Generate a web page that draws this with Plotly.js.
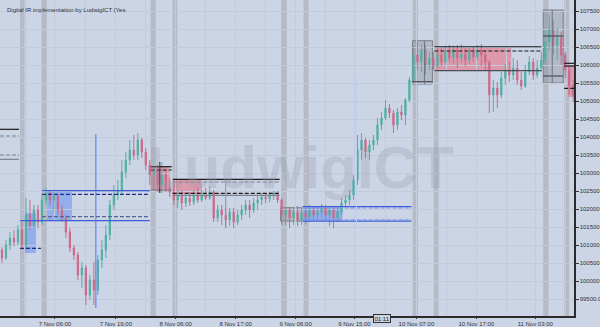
<!DOCTYPE html>
<html>
<head>
<meta charset="utf-8">
<script src="https://cdn.plot.ly/plotly-3.0.1.min.js"></script>
<style>html,body{margin:0;padding:0;background:#ccd5e6;}#chart{width:600px;height:327px;}</style>
</head>
<body>
<div id="chart"></div>
<script>
// ---- candle data (bar index, OHLC) ----
const barIndex = Array.from({length:144},(_, i)=>i);
const openP  = [100861,100639,101000,101195,101084,101417,101000,101834,101556,101972,101639,102250,102445,102250,102361,101972,101750,101361,100917,100722,100167,100361,99611,100028,99750,100584,100861,101278,102111,102389,102528,103028,103361,103639,103500,103917,103584,103222,102945,103084,102667,102945,102584,102472,102250,102389,102167,102306,102195,102361,102250,102389,102306,102472,101750,101972,101834,101695,101917,101639,101834,101972,102111,101972,102167,102250,102334,102278,102389,102417,102250,101834,101972,101750,101917,101695,101889,101778,101972,101834,101917,102028,101834,101972,101750,101917,102167,102250,102389,102806,103639,103917,103584,103778,103917,104334,104528,104806,104667,104334,104695,104611,105028,105584,106278,106084,106417,106000,106195,105972,106278,106084,106361,106195,106417,106195,106306,106139,106361,106222,106417,106278,106084,105167,105361,105167,105639,105861,105722,105917,105584,105417,105806,106084,105722,105917,106139,106639,106973,106556,106750,106278,105861,105445];
const highP  = [100945,101139,101361,101417,101556,101639,102306,102250,102111,102111,102389,102584,102528,102472,102417,102111,101834,101472,101000,100806,100528,100445,100167,100528,100722,101139,101556,102250,102667,102806,103361,103584,103917,104056,104111,103972,103695,103361,103195,103222,103306,103084,102861,102667,102528,102528,102445,102472,102528,102584,102528,102584,102639,102528,102111,102111,102056,102028,102028,101972,102111,102250,102250,102306,102389,102445,102445,102472,102500,102500,102306,102056,102056,102056,102084,102028,102028,102111,102056,102084,102139,102111,102084,102084,102028,102306,102389,102528,102945,104056,104111,103972,103917,104056,104528,104695,105028,104917,104750,104806,104889,105084,105667,106556,106639,106584,106556,106361,106361,106472,106472,106528,106556,106528,106556,106584,106472,106472,106500,106556,106584,106417,106139,105584,105528,105806,106028,106084,106195,106139,105806,106000,106250,106195,106139,106361,106973,107389,107250,107028,106917,106361,106000,105584];
const lowP   = [100500,100584,100861,100972,101000,100861,100861,101417,101472,101472,101556,102111,102111,101972,101834,101639,101195,100806,100584,100028,99806,99334,99472,99334,99611,100361,100639,101139,101972,102250,102389,102861,103222,103361,103361,103417,103084,102667,102528,102472,102445,102472,102334,102111,102028,101972,102056,102084,102111,102167,102195,102250,102250,101639,101639,101556,101472,101528,101472,101556,101695,101834,101750,101889,101972,102111,102167,102195,102250,102167,101556,101556,101472,101556,101528,101556,101584,101639,101695,101695,101750,101695,101528,101472,101639,101834,102056,102111,102250,102667,103361,103417,103361,103639,103778,104195,104472,104528,104111,104195,104472,104334,104972,105445,105861,105806,105722,105861,105861,105917,105972,106000,106084,106028,105917,106056,105972,106028,106084,106139,105972,105861,104667,104695,104806,105084,105445,105528,105584,105445,105306,105361,105722,105584,105639,105806,106000,106417,106278,106139,106000,105639,105167,104972];
const closeP = [100639,101000,101195,101084,101417,101000,101834,101556,101972,101639,102250,102445,102250,102361,101972,101750,101361,100917,100722,100167,100361,99611,100028,99750,100584,100861,101278,102111,102389,102528,103028,103361,103639,103500,103917,103584,103222,102945,103084,102667,102945,102584,102472,102250,102389,102167,102306,102195,102361,102250,102389,102306,102472,101750,101972,101834,101695,101917,101639,101834,101972,102111,101972,102167,102250,102334,102278,102389,102417,102250,101834,101972,101750,101917,101695,101889,101778,101972,101834,101917,102028,101834,101972,101750,101917,102167,102250,102389,102806,103639,103917,103584,103778,103917,104334,104528,104806,104667,104334,104695,104611,105028,105584,106278,106084,106417,106000,106195,105972,106278,106084,106361,106195,106417,106195,106306,106139,106361,106222,106417,106278,106084,105167,105361,105167,105639,105861,105722,105917,105584,105417,105806,106084,105722,105917,106139,106639,106973,106556,106750,106278,105861,105445,105167];

// ---- axis labels ----
const xTickIdx   = [13.25, 28.5, 43.5, 58.5, 73.5, 88.25, 103.75, 118.75, 133.5];
const xTickText  = ['7 Nov 06:00','7 Nov 19:00','8 Nov 06:00','8 Nov 17:00','9 Nov 06:00','9 Nov 15:00','10 Nov 07:00','10 Nov 17:00','11 Nov 03:00'];
const xMinorIdx  = [5.75, 21, 36, 51, 66, 81, 96, 111.25, 126.25, 141];

// ---- session windows (bar index ranges) ----
const sessionStart = [4.5, 9.9, 37.2, 42.7, 69.9, 75.5, 102.8, 108.1, 135.5, 140.75];
const sessionEnd   = [5.9, 11.2, 38.5, 43.9, 71.3, 76.75, 104.1, 109.3, 136.8, 142.0];

// ---- zones: [startIdx, endIdx, lowPrice, highPrice] ----
const blueZones = [[5.5,8.5,100777,101889],[11.25,17.5,101666,102508],[75.25,85.25,101666,102064]];
const redZones  = [[37.25,42,102500,103166],[42.75,50,102417,102805],[108.75,127.5,105842,106492],[141.75,143.2,105111,105972]];
const grayZones = [[69.75,75,101666,102036],[102.75,107.75,105472,106675],[135.5,140.5,105500,107528]];

// ---- level lines: [startIdx, endIdx, price, kind] ----
const levels = [
 [-0.5,4.25,104214,'k'],[-0.5,4.25,104028,'gd'],[-0.5,4.25,103500,'gd'],[-0.5,4.25,103381,'g'],
 [4.5,9.75,100908,'nd'],
 [4.5,37,101675,'b'],[10,37,101786,'sd'],[10,37,102508,'b'],[10,37,102408,'nd'],
 [37.25,42.5,103175,'k'],[37.25,42.5,103083,'kd'],[37.25,42.5,102528,'g'],
 [42.75,69.5,102825,'k'],[42.75,69.5,102750,'gd'],[42.75,69.5,102436,'kd'],[42.75,69.5,102380,'g'],
 [75.25,102.5,102064,'b'],[75.25,102.5,101666,'b'],[75.25,102.5,102030,'ld'],[75.25,102.5,101700,'ld'],
 [108.25,135,106508,'k'],[108.25,135,106389,'kd'],[108.25,135,105842,'dg'],
 [102.75,107.75,105536,'dg'],[135.5,140.5,106806,'dg'],[135.5,140.5,105694,'dg'],
 [140.75,143.2,106047,'k'],[140.75,143.2,105972,'k'],[140.75,143.2,105353,'kd']
];
// vertical markers: [idx, lowPrice, highPrice, kind]
const markers = [[23.5,99250,104083,'bv'],[56,101472,102805,'gv'],[88.75,101500,105722,'lv'],[39.5,102445,103306,'kv'],[105.75,105472,106675,'dv'],[137.75,105500,107528,'dv']];

const DASH = '4px,2px';
const styles = {
 k:{color:'#1a1a1a',dash:'solid'}, kd:{color:'#1a1a1a',dash:DASH},
 g:{color:'#7d8290',dash:'solid'}, gd:{color:'#7d8290',dash:DASH},
 dg:{color:'#4a4d55',dash:'solid'},
 b:{color:'#3d5fd6',dash:'solid'}, nd:{color:'#1d2f85',dash:DASH},
 sd:{color:'#55648f',dash:DASH}, ld:{color:'#7f98e8',dash:DASH},
 bv:{color:'#5276e6',dash:'solid'}, gv:{color:'#8d929c',dash:'solid'},
 lv:{color:'#b9cdf7',dash:'solid'}, kv:{color:'#222222',dash:'solid'}, dv:{color:'#6d717a',dash:'solid'}
};

const shapes = [];
sessionStart.forEach((s,i)=>shapes.push({type:'rect',xref:'x',yref:'paper',x0:s,x1:sessionEnd[i],y0:0,y1:1,fillcolor:'#afb3bd',opacity:0.8,line:{width:0},layer:'below'}));
blueZones.forEach(z=>shapes.push({type:'rect',xref:'x',yref:'y',x0:z[0],x1:z[1],y0:z[2],y1:z[3],fillcolor:'rgba(80,125,245,0.45)',line:{width:0},layer:'below'}));
redZones.forEach(z=>shapes.push({type:'rect',xref:'x',yref:'y',x0:z[0],x1:z[1],y0:z[2],y1:z[3],fillcolor:'rgba(240,95,115,0.5)',line:{width:0},layer:'below'}));
grayZones.forEach(z=>shapes.push({type:'rect',xref:'x',yref:'y',x0:z[0],x1:z[1],y0:z[2],y1:z[3],fillcolor:'rgba(140,143,150,0.4)',line:{width:1,color:'#7a7e87'},layer:'below'}));
levels.forEach(l=>{const s=styles[l[3]];shapes.push({type:'line',xref:'x',yref:'y',x0:l[0],x1:l[1],y0:l[2],y1:l[2],line:{color:s.color,width:1.2,dash:s.dash}});});
markers.forEach(m=>{const s=styles[m[3]];shapes.push({type:'line',xref:'x',yref:'y',x0:m[0],x1:m[0],y0:m[1],y1:m[2],line:{color:s.color,width:1,dash:s.dash}});});

const trace = {
 type:'candlestick', x:barIndex, open:openP, high:highP, low:lowP, close:closeP,
 increasing:{line:{color:'#52afa3',width:1},fillcolor:'#52afa3'},
 decreasing:{line:{color:'#cb6a8b',width:1},fillcolor:'#cb6a8b'},
 whiskerwidth:0, hoverinfo:'skip', showlegend:false
};

const tickFont = {family:'Liberation Sans, Arial, sans-serif',size:6,color:'#333'};
const layout = {
 width:600, height:327,
 margin:{l:0,r:26,t:0,b:11},
 boxgap:0.55,
 paper_bgcolor:'#ccd5e6', plot_bgcolor:'#ccd5e6',
 showlegend:false,
 xaxis:{range:[-0.5,143.2], rangeslider:{visible:false}, tickmode:'array', tickvals:xTickIdx, ticktext:xTickText,
   showgrid:true, gridcolor:'#c2cadb', gridwidth:1, ticks:'outside', ticklen:1, tickcolor:'#333', ticklabelstandoff:0,
   tickfont:tickFont, showline:true, linecolor:'#2b2b2b', linewidth:1.5,
   minor:{tickmode:'array',tickvals:xMinorIdx,showgrid:true,gridcolor:'#c2cadb',ticks:''}, zeroline:false, fixedrange:true},
 yaxis:{side:'right', range:[99028,107806], dtick:500, tick0:99500, tickformat:'.1f', showgrid:true, gridcolor:'#c2cadb',
   ticks:'outside', ticklen:3, tickcolor:'#333', tickfont:tickFont, ticklabelstandoff:0,
   showline:true, linecolor:'#2b2b2b', linewidth:1.5, zeroline:false, fixedrange:true},
 shapes:shapes,
 annotations:[
  {xref:'paper',yref:'paper',x:0.523,y:0.47,xanchor:'center',yanchor:'middle',showarrow:false,
   text:'<b>LudwigICT</b>', font:{family:'Liberation Sans, Arial, sans-serif',size:60,color:'rgba(150,156,172,0.3)'}},
  {xref:'paper',yref:'paper',x:0.008,y:0.985,xanchor:'left',yanchor:'top',showarrow:false,
   text:'Digital IR implementation by LudwigICT (Yes', font:{family:'Liberation Sans, Arial, sans-serif',size:6,color:'#333'}},
  {xref:'x',yref:'paper',x:95.25,y:0.006,xanchor:'center',yanchor:'top',showarrow:false,
   text:'01:11', bordercolor:'#333', borderwidth:1, borderpad:0.5, bgcolor:'#ccd5e6', font:{family:'Liberation Sans, Arial, sans-serif',size:6,color:'#222'}}
 ]
};
Plotly.newPlot('chart',[trace],layout,{displayModeBar:false,staticPlot:true});
</script>
</body>
</html>
